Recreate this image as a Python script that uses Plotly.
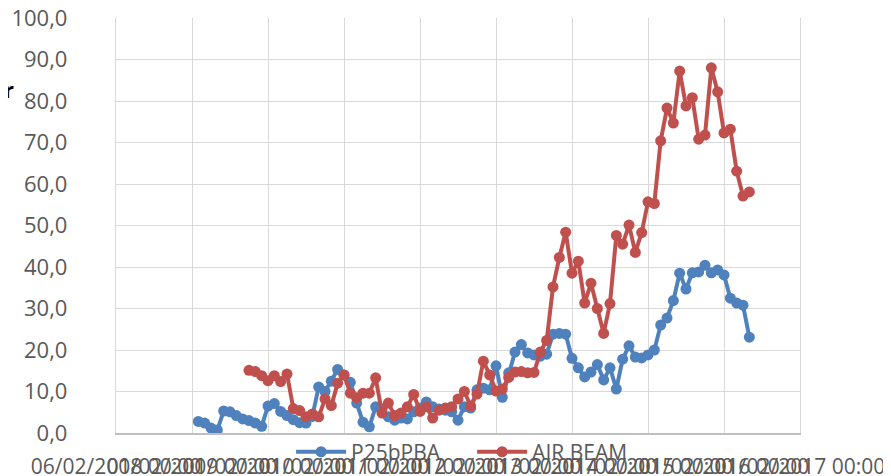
import plotly.graph_objects as go

# x positions are period indices (12 periods between labelled ticks)
tick_positions = [0, 12, 24, 36, 48, 60, 72, 84, 96, 108]
tick_labels = ["06/02/2008 00:00", "01/02/2009 00:00", "01/02/2010 00:00", "01/02/2011 00:00",
               "01/02/2012 00:00", "01/02/2013 00:00", "01/02/2014 00:00", "01/02/2015 00:00",
               "01/02/2016 00:00", "01/02/2017 00:00"]
y_ticks = [0, 10, 20, 30, 40, 50, 60, 70, 80, 90, 100]
y_tick_labels = ["0,0", "10,0", "20,0", "30,0", "40,0", "50,0", "60,0", "70,0", "80,0", "90,0", "100,0"]

p25_start = 13
p25_values = [2.8, 2.4, 1.2, 0.7, 5.3, 5.1, 4.2, 3.4, 3.0, 2.4,
              1.6, 6.5, 7.1, 5.2, 4.2, 3.2, 2.5, 2.4, 4.0, 11.1,
              10.0, 12.5, 15.3, 14.0, 12.2, 7.2, 2.6, 1.5, 6.3, 5.8,
              3.9, 3.1, 3.6, 3.4, 5.1, 6.0, 7.5, 6.3, 5.8, 5.5,
              5.1, 3.1, 6.3, 6.0, 10.4, 10.8, 10.4, 16.2, 8.6, 14.5,
              19.5, 21.3, 19.3, 18.8, 18.5, 19.0, 23.8, 24.0, 23.8, 18.0,
              15.7, 13.5, 14.7, 16.5, 12.8, 15.7, 10.6, 17.8, 21.0, 18.3,
              18.1, 18.8, 20.0, 26.0, 27.7, 31.9, 38.5, 34.7, 38.6, 38.8,
              40.4, 38.6, 39.3, 38.1, 32.5, 31.3, 30.8, 23.1]

air_start = 21
air_values = [15.1, 14.8, 13.8, 12.6, 13.8, 12.4, 14.2, 5.9, 5.4, 3.9,
              4.6, 3.9, 8.2, 6.6, 12.0, 14.0, 9.6, 8.5, 9.6, 9.6,
              13.3, 4.8, 7.2, 4.2, 4.8, 6.3, 9.3, 5.2, 6.3, 3.6,
              5.5, 6.0, 6.3, 8.2, 10.0, 6.5, 9.4, 17.3, 14.0, 10.1,
              10.6, 13.4, 14.7, 14.8, 14.5, 14.6, 19.5, 22.3, 35.2, 42.3,
              48.4, 38.5, 41.4, 31.3, 36.1, 30.0, 24.0, 31.2, 47.6, 45.5,
              50.1, 43.5, 48.3, 55.7, 55.3, 70.4, 78.3, 74.7, 87.2, 78.8,
              80.8, 70.8, 71.8, 88.0, 82.2, 72.3, 73.2, 63.1, 57.1, 58.1]

p25_x = [p25_start + i for i in range(len(p25_values))]
air_x = [air_start + i for i in range(len(air_values))]

BLUE = "#4F81BD"
RED = "#C0504D"
TXT = "#595959"
FONT = "Open Sans"

fig = go.Figure()
fig.add_trace(go.Scatter(x=p25_x, y=p25_values, name="P25bPBA", mode="lines+markers",
                         line=dict(color=BLUE, width=4), marker=dict(color=BLUE, size=11)))
fig.add_trace(go.Scatter(x=air_x, y=air_values, name="AIR BEAM", mode="lines+markers",
                         line=dict(color=RED, width=4), marker=dict(color=RED, size=11)))

# the page body has an 8px default margin, so the margins are offset to compensate
fig.update_layout(
    width=891, height=476,
    margin=dict(l=108, r=99, t=10, b=51),
    paper_bgcolor="white", plot_bgcolor="white",
    font=dict(family=FONT, size=21, color=TXT),
    showlegend=True,
    legend=dict(orientation="h", x=0.256, xanchor="left", y=-0.046, yanchor="middle",
                font=dict(family=FONT, size=21, color=TXT), bgcolor="rgba(0,0,0,0)",
                itemwidth=50, entrywidth=116, entrywidthmode="pixels", tracegroupgap=0),
    annotations=[dict(text="<b>r</b>", xref="paper", yref="paper", x=-0.167, y=0.83,
                      xanchor="left", yanchor="middle", showarrow=False,
                      font=dict(family=FONT, size=22, color="black"))],
)
fig.update_xaxes(range=[0, 108], tickmode="array", tickvals=tick_positions, ticktext=tick_labels,
                 tickangle=0, showgrid=True, gridcolor="#D9D9D9", gridwidth=1.3,
                 showline=True, linecolor="#BFBFBF", linewidth=2, zeroline=False, automargin=False,
                 ticks="", ticklabelstandoff=14, ticklabeloverflow="allow",
                 tickfont=dict(family=FONT, size=21, color=TXT))
fig.update_yaxes(range=[0, 100], tickmode="array", tickvals=y_ticks, ticktext=y_tick_labels,
                 showgrid=True, gridcolor="#D9D9D9", gridwidth=1.3, automargin=False,
                 showline=True, linecolor="#D9D9D9", linewidth=1.3, mirror=True, zeroline=False,
                 ticks="", ticklabelstandoff=43, ticklabeloverflow="allow",
                 tickfont=dict(family=FONT, size=22, color=TXT))

fig.write_html("out.html")
